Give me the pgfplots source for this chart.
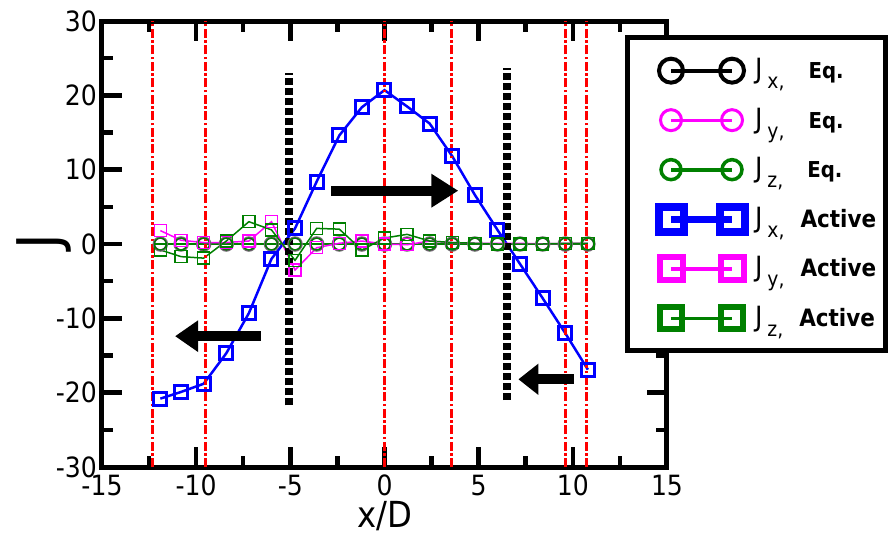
\documentclass[border=0pt]{standalone}
\usepackage{fontspec}
\setmainfont{DejaVu Sans}[FakeStretch=0.9]
\usepackage{pgfplots}
\pgfplotsset{compat=1.18}
\usetikzlibrary{arrows.meta}
\definecolor{mygreen}{RGB}{0,128,0}
\definecolor{mymag}{RGB}{255,0,255}
\definecolor{myblue}{RGB}{0,0,255}
\pgfplotsset{twomark legend/.style={legend image code/.code={\path (-31.5bp,0pt); \draw[##1] plot coordinates {(0bp,0bp) (61bp,0bp)};}}}
\newcommand{\legeq}[1]{J\hspace{5bp}\raisebox{-10bp}{\fontsize{21}{21}\selectfont #1,}\hspace{24bp}{\fontsize{22}{22}\selectfont\bfseries Eq.}}
\newcommand{\legact}[1]{J\hspace{5bp}\raisebox{-10bp}{\fontsize{21}{21}\selectfont #1,}\hspace{16bp}{\fontsize{24}{24}\selectfont\bfseries Active}}
\begin{document}
\begin{tikzpicture}
\begin{axis}[
  scale only axis, width=565bp, height=446bp,
  xmin=-15, xmax=15, ymin=-30, ymax=30,
  xtick={-15,-10,...,15}, ytick={-30,-20,...,30},
  minor x tick num=1, minor y tick num=1,
  tick align=inside,
  major tick length=20bp, minor tick length=11bp,
  tick style={black, line width=4.5bp},
  axis line style={line width=5bp},
  tick label style={font=\fontsize{28}{30}\selectfont},
  /pgf/number format/assume math mode=true,
  xticklabel style={anchor=base, yshift=-28bp, inner sep=0pt},
  yticklabel style={anchor=east, inner sep=0pt, xshift=-5bp},
  xlabel={x/D}, ylabel={J},
  xlabel style={at={(axis description cs:0.5,0)}, anchor=base, yshift=-60bp, inner sep=0pt, font=\fontsize{36}{38}\selectfont},
  ylabel style={at={(axis description cs:0,0.5045)}, anchor=base, yshift=42bp, font=\fontsize{59}{60}\selectfont},
  clip=false,
  legend cell align=left,
  legend style={at={(axis description cs:0.9248,0.9677)}, anchor=north west, draw=black, line width=5bp, fill=white,
    inner xsep=9bp, inner ysep=8bp, row sep=0pt,
    nodes={inner xsep=0pt, inner ysep=3bp, text height=29.75bp, text depth=13.75bp},
    /tikz/every odd column/.style={column sep=10.5bp},
    font=\fontsize{28}{30}\selectfont},
]
% Eq. series
\addplot[black!55, line width=2.5bp, mark=o, mark size=6.5bp, forget plot] coordinates {
(-11.9,0) (-10.8,0) (-9.6,0) (-8.4,0) (-7.2,0) (-6.0,0) (-4.75,0) (-3.6,0) (-2.4,0) (-1.2,0) (0,0) (1.2,0) (2.4,0) (3.6,0) (4.8,0) (6.0,0) (7.2,0) (8.4,0) (9.6,0) (10.8,0)};
\addplot[mymag, line width=1.5bp, mark=o, mark size=6bp, forget plot] coordinates {
(-11.9,0) (-10.8,0) (-9.6,0) (-8.4,0) (-7.2,0) (-6.0,0) (-4.75,0) (-3.6,0) (-2.4,0) (-1.2,0) (0,0) (1.2,0) (2.4,0) (3.6,0) (4.8,0) (6.0,0) (7.2,0) (8.4,0) (9.6,0) (10.8,0)};
\addplot[mygreen, line width=1.5bp, mark=o, mark size=6bp, forget plot] coordinates {
(-11.9,0) (-10.8,0) (-9.6,0) (-8.4,0) (-7.2,0) (-6.0,0) (-4.75,0) (-3.6,0) (-2.4,0) (-1.2,0) (0,0) (1.2,0) (2.4,0) (3.6,0) (4.8,0) (6.0,0) (7.2,0) (8.4,0) (9.6,0) (10.8,0)};
% Active series
\addplot[myblue, line width=2.5bp, mark=square, mark size=6.5bp, mark options={line width=3bp}, forget plot] coordinates {
(-11.9,-20.8) (-10.8,-19.9) (-9.6,-18.8) (-8.4,-14.7) (-7.2,-9.3) (-6.0,-2.0) (-4.75,2.1) (-3.6,8.4) (-2.4,14.6) (-1.2,18.4) (0,20.7) (1.2,18.5) (2.4,16.2) (3.6,11.8) (4.8,6.6) (6.0,1.9) (7.2,-2.7) (8.4,-7.3) (9.6,-12.0) (10.8,-16.9)};
\addplot[mymag, line width=1.5bp, mark=square, mark size=6bp, mark options={line width=1.5bp}, forget plot] coordinates {
(-11.9,1.8) (-10.8,0.5) (-9.6,0.2) (-8.4,0.2) (-7.2,0.4) (-6.0,3.0) (-4.75,-3.5) (-3.6,-0.5) (-2.4,0.1) (-1.2,0.4) (0,0.0) (1.2,-0.1) (2.4,0.4) (3.6,0.2) (4.8,0.1) (6.0,0.1) (7.2,0.1) (8.4,0.0) (9.6,0.1) (10.8,0.1)};
\addplot[mygreen, line width=1.5bp, mark=square, mark size=6bp, mark options={line width=1.5bp}, forget plot] coordinates {
(-11.9,-0.8) (-10.8,-1.7) (-9.6,-1.9) (-8.4,0.4) (-7.2,3.0) (-6.0,1.9) (-4.75,-2.2) (-3.6,2.1) (-2.4,2.0) (-1.2,-0.8) (0,0.8) (1.2,1.3) (2.4,0.4) (3.6,0.2) (4.8,0.1) (6.0,0.0) (7.2,0.0) (8.4,0.0) (9.6,0.1) (10.8,0.1)};
% red dash-dot lines
\addplot[red, line width=3bp, dash pattern=on 9bp off 2.5bp on 2.5bp off 2.5bp, forget plot] coordinates {(-12.3,-30) (-12.3,30)};
\addplot[red, line width=3bp, dash pattern=on 9bp off 2.5bp on 2.5bp off 2.5bp, forget plot] coordinates {(-9.5,-30) (-9.5,30)};
\addplot[red, line width=3bp, dash pattern=on 9bp off 2.5bp on 2.5bp off 2.5bp, forget plot] coordinates {(0,-30) (0,30)};
\addplot[red, line width=3bp, dash pattern=on 9bp off 2.5bp on 2.5bp off 2.5bp, forget plot] coordinates {(3.55,-30) (3.55,30)};
\addplot[red, line width=3bp, dash pattern=on 9bp off 2.5bp on 2.5bp off 2.5bp, forget plot] coordinates {(9.6,-30) (9.6,30)};
\addplot[red, line width=3bp, dash pattern=on 9bp off 2.5bp on 2.5bp off 2.5bp, forget plot] coordinates {(10.7,-30) (10.7,30)};
% black dashed lines
\addplot[black, line width=8bp, dash pattern=on 7bp off 3bp, forget plot] coordinates {(-5.07,-21.7) (-5.07,23.0)};
\addplot[black, line width=8bp, dash pattern=on 7bp off 3bp, forget plot] coordinates {(6.53,-21.0) (6.53,23.7)};
% arrows
\draw[black, line width=10bp, -{Triangle[length=27bp,width=32bp]}] (axis cs:-2.82,7.17) -- (axis cs:3.92,7.17);
\draw[black, line width=10bp, -{Triangle[length=23bp,width=30bp]}] (axis cs:-6.58,-12.4) -- (axis cs:-11.12,-12.4);
\draw[black, line width=10bp, -{Triangle[length=20bp,width=30bp]}] (axis cs:10.04,-18.2) -- (axis cs:7.11,-18.2);
% legend
\addlegendimage{twomark legend, black, line width=4bp, mark=o, mark size=12bp}
\addlegendentry{\legeq{x}}
\addlegendimage{twomark legend, mymag, line width=3bp, mark=o, mark size=10.5bp}
\addlegendentry{\legeq{y}}
\addlegendimage{twomark legend, mygreen, line width=4bp, mark=o, mark size=10bp, mark options={line width=3.5bp}}
\addlegendentry{\legeq{z}}
\addlegendimage{twomark legend, myblue, line width=7bp, mark=square, mark size=12.5bp, mark options={line width=8bp}}
\addlegendentry{\legact{x}}
\addlegendimage{twomark legend, mymag, line width=4bp, mark=square, mark size=11.5bp, mark options={line width=6bp}}
\addlegendentry{\legact{y}}
\addlegendimage{twomark legend, mygreen, line width=3bp, mark=square, mark size=11bp, mark options={line width=6bp}}
\addlegendentry{\legact{z}}
\coordinate (bbSW) at (axis description cs:-0.1805,-0.1547);
\coordinate (bbNE) at (axis description cs:1.3947,1.0471);
\end{axis}
\pgfresetboundingbox
\path (bbSW) rectangle (bbNE);
\end{tikzpicture}
\end{document}
